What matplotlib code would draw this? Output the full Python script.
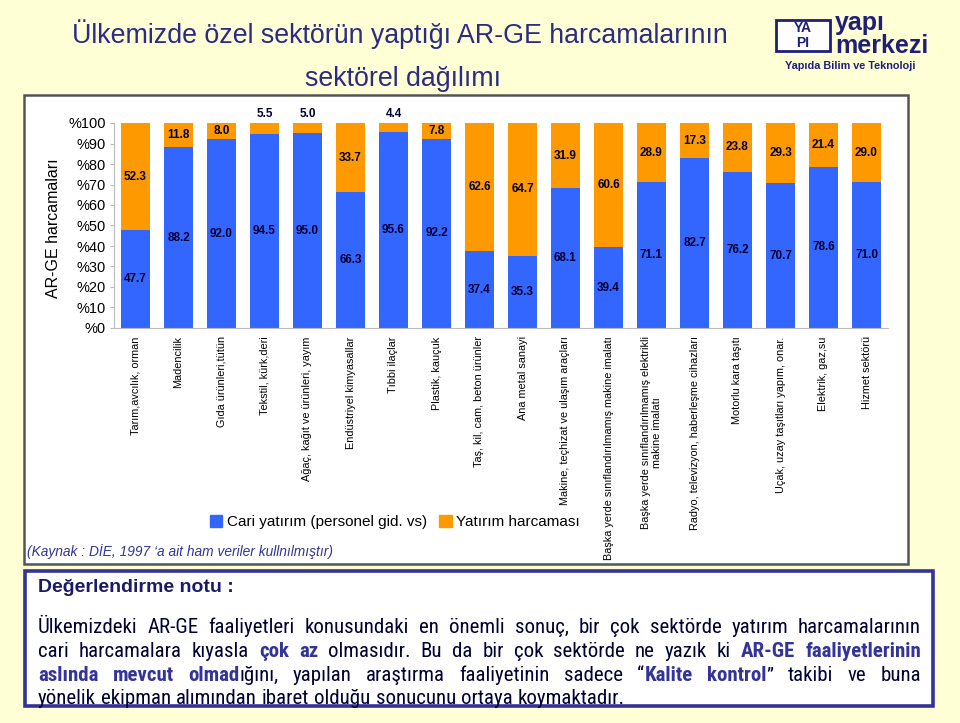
import matplotlib
matplotlib.use("Agg")
import matplotlib.pyplot as plt
from matplotlib import font_manager
from matplotlib.patches import Rectangle, Patch

# ---- data ----
categories = [
    "Tarım,avcılık, orman",
    "Madencilik",
    "Gıda ürünleri,tütün",
    "Tekstil, kürk,deri",
    "Ağaç, kağıt ve ürünleri, yayım",
    "Endüstriyel kimyasallar",
    "Tıbbi ilaçlar",
    "Plastik, kauçuk",
    "Taş, kil, cam, beton ürünler",
    "Ana metal sanayi",
    "Makine, teçhizat ve ulaşım araçları",
    "Başka yerde sınıflandırılmamış makine imalatı",
    "Başka yerde sınıflandırılmamış elektrikli\nmakine imalatı",
    "Radyo, televizyon, haberleşme cihazları",
    "Motorlu kara taşıtı",
    "Uçak, uzay taşıtları yapım, onar.",
    "Elektrik, gaz,su",
    "Hizmet sektörü",
]
cari = [47.7, 88.2, 92.0, 94.5, 95.0, 66.3, 95.6, 92.2, 37.4,
        35.3, 68.1, 39.4, 71.1, 82.7, 76.2, 70.7, 78.6, 71.0]
yatirim = [52.3, 11.8, 8.0, 5.5, 5.0, 33.7, 4.4, 7.8, 62.6,
           64.7, 31.9, 60.6, 28.9, 17.3, 23.8, 29.3, 21.4, 29.0]
series_names = ["Cari yatırım (personel gid. vs)", "Yatırım harcaması"]
ytick_values = list(range(0, 101, 10))
ytick_labels = [f"%{v}" for v in ytick_values]

title_1 = "Ülkemizde özel sektörün yaptığı AR-GE harcamalarının"
title_2 = "sektörel dağılımı"
source = "(Kaynak : DİE, 1997 \u2018a ait ham veriler kullnılmıştır)"
note_head = "Değerlendirme notu :"
# "|" splits style pieces, a leading "*" marks a bold piece
note_lines = [
    "Ülkemizdeki AR-GE faaliyetleri konusundaki en önemli sonuç, bir çok sektörde yatırım harcamalarının",
    "cari harcamalara kıyasla |*çok az| olmasıdır. Bu da bir çok sektörde ne yazık ki |*AR-GE faaliyetlerinin",
    "|*aslında mevcut olmad|ığını, yapılan araştırma faaliyetinin sadece \u201c|*Kalite kontrol|\u201d takibi ve buna",
    "yönelik ekipman alımından ibaret olduğu sonucunu ortaya koymaktadır.",
]

BLUE = "#3366FF"
ORANGE = "#FF9900"
NAVY = "#333399"
LOGO = "#1F1F7A"
BG = "#FFFFD6"

W, H = 960, 723


def fx(x):
    return x / W


def fy(y):
    return 1 - y / H


def has_font(name):
    try:
        font_manager.findfont(name, fallback_to_default=False)
        return True
    except Exception:
        return False


def find_condensed():
    for fam in ["Liberation Sans Narrow", "Roboto Condensed",
                "DejaVu Sans Condensed", "Noto Sans Condensed"]:
        if has_font(fam):
            return fam
    return None


SANS = "Liberation Sans" if has_font("Liberation Sans") else "DejaVu Sans"
COND = find_condensed()
plt.rcParams["font.family"] = [SANS, "DejaVu Sans"]

fig = plt.figure(figsize=(9.6, 7.23), dpi=100, facecolor=BG)

# white chart panel and note box
fig.patches.append(Rectangle((fx(24), fy(564)), (908 - 24) / W, (564 - 95) / H,
                             transform=fig.transFigure, fc="white",
                             ec="#555555", lw=1.8, zorder=-2))
fig.patches.append(Rectangle((fx(25), fy(706)), (933 - 25) / W, (706 - 571) / H,
                             transform=fig.transFigure, fc="white",
                             ec=NAVY, lw=2.6, zorder=-2))

# titles
fig.text(fx(400), fy(34), title_1, ha="center", va="center",
         fontsize=19.3, color="#2B2B88")
fig.text(fx(403), fy(79), title_2, ha="center", va="center",
         fontsize=19.3, color="#2B2B88")

# logo
fig.patches.append(Rectangle((fx(776), fy(51)), 54 / W, 31 / H,
                             transform=fig.transFigure, fc="white",
                             ec=LOGO, lw=2.0))
fig.text(fx(803), fy(28), "YA", ha="center", va="center", fontsize=10,
         fontweight="bold", color=LOGO)
fig.text(fx(803), fy(43), "PI", ha="center", va="center", fontsize=10,
         fontweight="bold", color=LOGO)
fig.text(fx(835), fy(30), "yapı", ha="left", va="baseline", fontsize=18,
         fontweight="bold", color=LOGO)
fig.text(fx(835), fy(53), "merkezi", ha="left", va="baseline", fontsize=18,
         fontweight="bold", color=LOGO)
fig.text(fx(850), fy(66), "Yapıda Bilim ve Teknoloji", ha="center",
         va="center", fontsize=7.8, fontweight="bold", color=LOGO)

# ---- bar chart ----
ax = fig.add_axes([fx(114), fy(328), (888 - 114) / W, (328 - 123) / H])
ax.set_zorder(2)
ax.set_facecolor("none")
x = list(range(len(categories)))
ax.bar(x, cari, width=0.67, color=BLUE, label=series_names[0])
ax.bar(x, yatirim, width=0.67, bottom=cari, color=ORANGE, label=series_names[1])
ax.set_xlim(-0.5, len(categories) - 0.5)
ax.set_ylim(0, 100)

for i in x:
    ax.text(i, cari[i] / 2, f"{cari[i]:.1f}", ha="center", va="center",
            fontsize=8.5, fontweight="bold", color="#000033")
    if yatirim[i] < 6:
        ax.text(i, 101.5, f"{yatirim[i]:.1f}", ha="center", va="bottom",
                fontsize=8.5, fontweight="bold", color="#000033", clip_on=False)
    else:
        ax.text(i, cari[i] + yatirim[i] / 2, f"{yatirim[i]:.1f}", ha="center",
                va="center", fontsize=8.5, fontweight="bold", color="#000033")

ax.set_yticks(ytick_values)
ax.set_yticklabels(ytick_labels, fontsize=10.5)
ax.set_xticks(x)
ax.set_xticklabels(categories, rotation=90, ha="center", va="top",
                   fontsize=7.8, multialignment="center")
ax.tick_params(axis="x", length=0, pad=6)
ax.tick_params(axis="y", length=3, color="#BBBBBB", pad=3)
for side in ["top", "right"]:
    ax.spines[side].set_visible(False)
ax.spines["left"].set_color("#BBBBBB")
ax.spines["bottom"].set_color("#BBBBBB")

fig.text(fx(54), fy(228), "AR-GE harcamaları", rotation=90, ha="center",
         va="center", fontsize=11.5)

handles = [Patch(color=BLUE), Patch(color=ORANGE)]
fig.legend(handles, series_names, loc="center", bbox_to_anchor=(fx(395), fy(522)),
           ncol=2, frameon=False, fontsize=11, handlelength=0.8,
           handleheight=0.8, handletextpad=0.3, columnspacing=0.8)

fig.text(fx(27), fy(552), source, ha="left", va="center", fontsize=9.9,
         style="italic", color=NAVY)

# ---- evaluation note (justified lines) ----
fig.text(fx(38), fy(588), note_head, ha="left", va="center", fontsize=14,
         fontweight="bold", color="#1A1A66")

if COND:
    body_family, body_size = COND, 15
else:
    body_family, body_size = SANS, 14
renderer = fig.canvas.get_renderer()
x_left, x_right = 38, 921
line_base = [633, 657, 681, 704]


def parse_line(line):
    pieces = []
    for chunk in line.split("|"):
        bold = chunk.startswith("*")
        pieces.append((chunk[1:] if bold else chunk, bold))
    words, cur = [], []
    for txt, bold in pieces:
        parts = txt.split(" ")
        for k, p in enumerate(parts):
            if k > 0:
                if cur:
                    words.append(cur)
                cur = []
            if p:
                cur.append((p, bold))
    if cur:
        words.append(cur)
    return words


for li, line in enumerate(note_lines):
    words = parse_line(line)
    placed = []
    total = 0
    for word in words:
        items = []
        for txt, bold in word:
            t = fig.text(0, fy(line_base[li]), txt, ha="left", va="baseline",
                         fontsize=body_size, family=[body_family, "DejaVu Sans"],
                         fontweight="bold" if bold else "normal",
                         color=NAVY if bold else "#000033")
            w = t.get_window_extent(renderer).width
            items.append((t, w))
            total += w
        placed.append(items)
    if li < len(note_lines) - 1:
        gap = (x_right - x_left - total) / (len(words) - 1)
    else:
        gap = body_size * 100 / 72 * 0.24
    cx = x_left
    for items in placed:
        for t, w in items:
            t.set_x(fx(cx))
            cx += w
        cx += gap

fig.savefig("out.png", dpi=100, facecolor=BG)
